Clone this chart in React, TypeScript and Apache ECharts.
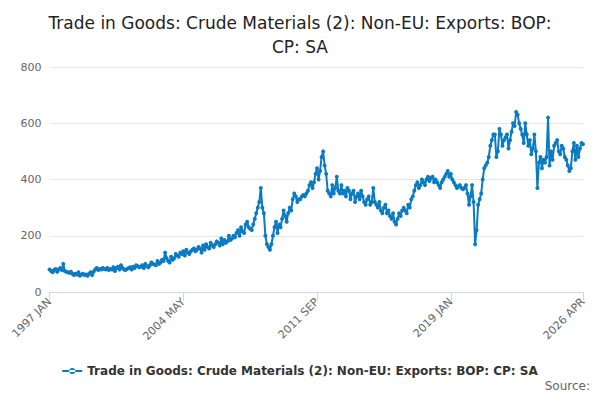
import React, { useEffect, useRef } from "react";
import * as echarts from "echarts";

const MONTHS = ["JAN","FEB","MAR","APR","MAY","JUN","JUL","AUG","SEP","OCT","NOV","DEC"];
const START_YEAR = 1997;
const values: number[] = [
  80,75,70,78,82,72,80,85,78,100,75,72,
  70,68,72,65,60,65,62,70,58,62,65,60,
  62,58,65,70,60,72,80,85,78,82,80,85,
  82,80,85,78,82,80,88,75,85,90,80,95,
  85,80,78,82,85,88,80,90,85,95,92,88,
  90,95,85,100,92,88,95,105,100,98,95,110,
  100,105,115,110,140,120,110,105,125,115,120,135,
  130,125,140,135,145,130,150,140,135,145,150,155,
  145,150,160,155,140,165,150,170,160,155,175,165,
  160,170,180,175,165,190,170,185,175,180,200,185,
  190,200,195,210,220,200,230,215,210,240,250,230,
  225,220,240,260,280,300,320,370,300,280,200,170,
  160,150,170,200,230,250,210,240,230,260,290,270,
  250,280,300,290,330,350,340,320,330,330,340,345,
  340,350,360,380,390,370,390,420,440,400,430,480,
  500,450,420,360,350,340,380,350,370,410,360,350,
  380,350,360,340,370,360,330,350,360,320,340,350,
  330,360,340,320,310,330,340,310,320,370,320,310,
  300,320,290,280,300,310,280,290,270,260,280,250,
  240,260,280,270,290,300,290,280,310,300,330,340,
  360,380,390,370,380,400,390,380,400,410,395,405,
  410,390,400,390,380,370,390,400,410,420,430,410,
  420,400,390,380,370,375,380,370,365,370,380,350,
  310,340,380,320,170,220,310,330,350,400,440,450,
  460,480,520,540,560,560,480,500,580,560,520,540,
  550,560,510,540,570,600,590,640,630,600,580,560,
  530,600,560,520,540,490,510,560,500,370,460,480,
  440,470,460,480,620,450,500,470,520,530,540,500,
  490,520,510,480,470,450,430,440,500,530,470,520,
  480,510,530,525,
];
const categories: string[] = values.map((_, i) => `${START_YEAR + Math.floor(i / 12)} ${MONTHS[i % 12]}`);
const SERIES_NAME = "Trade in Goods: Crude Materials (2): Non-EU: Exports: BOP: CP: SA";

export default function App() {
  const ref = useRef<HTMLDivElement>(null);
  useEffect(() => {
    const chart = echarts.init(ref.current!, null, { renderer: "svg" });
    const last = categories.length - 1;
    const show = (i: number) => i % 88 === 0 || i === last;
    chart.setOption({
      animation: false,
      title: {
        text: "Trade in Goods: Crude Materials (2): Non-EU: Exports: BOP:\nCP: SA",
        left: "center", top: -2,
        textStyle: { fontFamily: "DejaVu Sans", fontSize: 17, fontWeight: "normal", color: "#222", lineHeight: 24 },
      },
      grid: { left: 37, right: 9, top: 59, bottom: 100 },
      xAxis: {
        type: "category", data: categories, boundaryGap: false,
        axisLine: { lineStyle: { color: "#ccd6eb" } },
        axisTick: { interval: (i: number) => show(i), lineStyle: { color: "#ccd6eb" }, length: 8 },
        axisLabel: { interval: (i: number) => show(i), rotate: 45, color: "#666", fontSize: 11, fontFamily: "DejaVu Sans" },
      },
      yAxis: {
        type: "value", min: 0, max: 800, interval: 200,
        axisLabel: { color: "#666", fontSize: 11, fontFamily: "DejaVu Sans" },
        splitLine: { lineStyle: { color: "#e6e6e6" } },
      },
      legend: {
        bottom: 10, left: "center", icon: "path://M0,4L20,4L20,6L0,6Z M7,5A3,3 0 1,0 13,5A3,3 0 1,0 7,5Z",
        itemWidth: 20, itemHeight: 8,
        textStyle: { fontFamily: "DejaVu Sans", fontSize: 12, fontWeight: "bold", color: "#333" },
      },
      graphic: [{ type: "text", right: 2, bottom: 0, style: { text: "Source:", fontFamily: "DejaVu Sans", fontSize: 12, fill: "#666" } }],
      series: [{
        name: SERIES_NAME, type: "line", data: values,
        symbol: "circle", symbolSize: 4, showAllSymbol: true,
        itemStyle: { color: "#0b7bc1" }, lineStyle: { color: "#0b7bc1", width: 2 },
      }],
    });
    return () => chart.dispose();
  }, []);
  return <div ref={ref} style={{ width: 584, height: 384 }} />;
}
